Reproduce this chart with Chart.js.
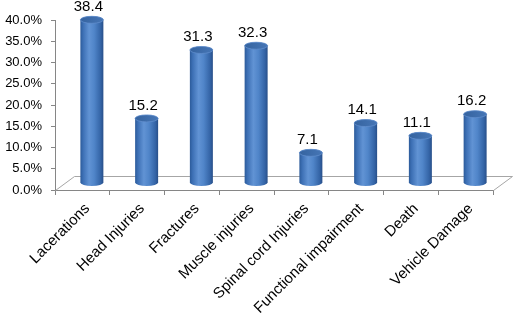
<!DOCTYPE html>
<html>
<head>
<meta charset="utf-8">
<script src="https://cdn.jsdelivr.net/npm/chart.js@4/dist/chart.umd.min.js"></script>
<style>
  html, body { margin: 0; padding: 0; background: #ffffff; }
  #wrap { width: 516px; height: 315px; }
</style>
</head>
<body>
<div id="wrap"><canvas id="c" width="516" height="315"></canvas></div>
<script>
// ---- data ----
const categories = ["Lacerations", "Head Injuries", "Fractures", "Muscle injuries",
  "Spinal cord Injuries", "Functional impairment", "Death", "Vehicle Damage"];
const values = [38.4, 15.2, 31.3, 32.3, 7.1, 14.1, 11.1, 16.2];
const yTickValues = [0, 5, 10, 15, 20, 25, 30, 35, 40];

// ---- 3D look ----
const DEPTH_X = 19, DEPTH_Y = 14;      // floor depth
const BAR_DX = 9.5, BAR_DY = 7;        // cylinders sit mid-depth
const RY = 3.5;

const floorPlugin = {
  id: 'floor3d',
  beforeDatasetsDraw(chart) {
    const ctx = chart.ctx, a = chart.chartArea;
    ctx.save();
    ctx.strokeStyle = '#a6a6a6';
    ctx.lineWidth = 1;
    ctx.beginPath();
    ctx.moveTo(a.left + 0.5, a.bottom + 0.5);
    ctx.lineTo(a.left + DEPTH_X + 0.5, a.bottom - DEPTH_Y + 0.5);
    ctx.lineTo(a.right + DEPTH_X + 0.5, a.bottom - DEPTH_Y + 0.5);
    ctx.lineTo(a.right + 0.5, a.bottom + 0.5);
    ctx.stroke();
    ctx.restore();
  },
  afterDatasetsDraw(chart) {
    const ctx = chart.ctx;
    const meta = chart.getDatasetMeta(0);
    const ds = chart.data.datasets[0];
    meta.data.forEach((el, i) => {
      const cx = el.x + BAR_DX;
      const rx = el.width / 2;
      const topY = el.y - BAR_DY;
      const baseY = el.base - BAR_DY;
      ctx.save();
      // body
      const g = ctx.createLinearGradient(cx - rx, 0, cx + rx, 0);
      g.addColorStop(0, '#2c5b9a');
      g.addColorStop(0.12, '#3d70b5');
      g.addColorStop(0.38, '#6193d4');
      g.addColorStop(0.6, '#5085c9');
      g.addColorStop(0.88, '#3464a6');
      g.addColorStop(1, '#284f89');
      ctx.beginPath();
      ctx.moveTo(cx - rx, topY);
      ctx.lineTo(cx - rx, baseY);
      ctx.ellipse(cx, baseY, rx, RY, 0, Math.PI, 0, true);
      ctx.lineTo(cx + rx, topY);
      ctx.ellipse(cx, topY, rx, RY, 0, 0, Math.PI, true);
      ctx.closePath();
      ctx.fillStyle = g;
      ctx.fill();
      // top cap
      const gt = ctx.createLinearGradient(cx - rx, topY, cx + rx, topY);
      gt.addColorStop(0, '#35639f');
      gt.addColorStop(1, '#4676b6');
      ctx.beginPath();
      ctx.ellipse(cx, topY, rx, RY, 0, 0, Math.PI * 2);
      ctx.fillStyle = gt;
      ctx.fill();
      ctx.strokeStyle = '#5f8dcb';
      ctx.lineWidth = 0.8;
      ctx.stroke();
      // value label
      ctx.fillStyle = '#000000';
      ctx.font = '15px "Liberation Sans", Arial, sans-serif';
      ctx.textAlign = 'center';
      ctx.textBaseline = 'middle';
      ctx.fillText(ds.data[i].toFixed(1), cx - 3.5, topY - 13);
      ctx.restore();
    });
  }
};

new Chart(document.getElementById('c'), {
  type: 'bar',
  data: {
    labels: categories,
    datasets: [{
      data: values,
      backgroundColor: 'rgba(0,0,0,0)',
      borderWidth: 0,
      categoryPercentage: 1.0,
      barPercentage: 0.42
    }]
  },
  options: {
    responsive: false,
    animation: false,
    layout: { padding: { top: 20, right: 23, left: 0, bottom: 0 } },
    plugins: { legend: { display: false }, tooltip: { enabled: false } },
    scales: {
      x: {
        offset: true,
        grid: { display: true, drawOnChartArea: false, drawTicks: true, tickLength: 5, color: '#868686', offset: true },
        border: { display: true, color: '#868686' },
        ticks: {
          minRotation: 45, maxRotation: 45, autoSkip: false,
          color: '#000000', padding: 5, labelOffset: 5,
          font: { family: '"Liberation Sans", Arial, sans-serif', size: 15 }
        },
        afterFit(s) { s.height = 125; }
      },
      y: {
        min: 0, max: 40,
        afterBuildTicks(s) { s.ticks = yTickValues.map(v => ({ value: v })); },
        grid: { display: true, drawOnChartArea: false, drawTicks: true, tickLength: 4, color: '#868686' },
        border: { display: true, color: '#868686' },
        ticks: {
          color: '#000000', padding: 9,
          font: { family: '"Liberation Sans", Arial, sans-serif', size: 13 },
          callback: v => v.toFixed(1) + '%'
        },
        afterFit(s) { s.width = 55; }
      }
    }
  },
  plugins: [floorPlugin]
});
</script>
</body>
</html>
